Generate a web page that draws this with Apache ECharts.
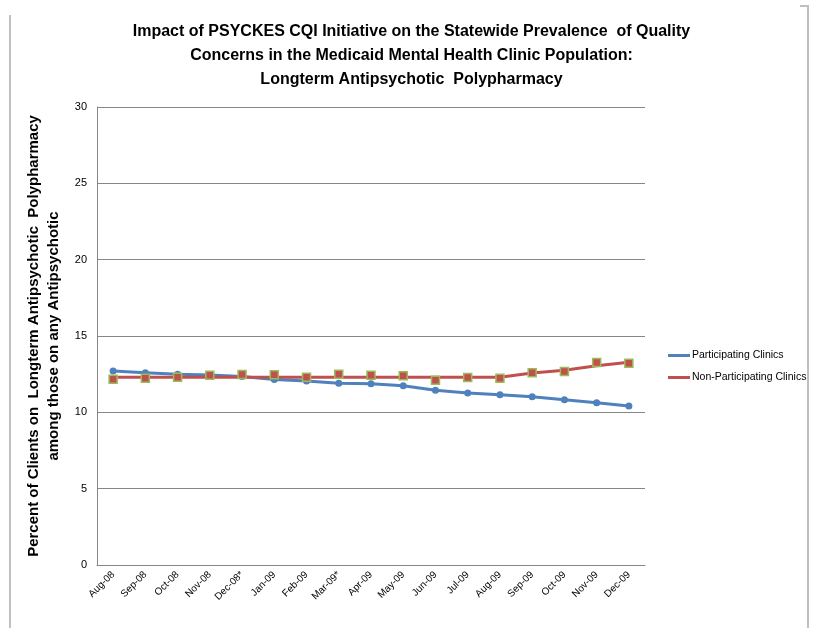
<!DOCTYPE html>
<html>
<head>
<meta charset="utf-8">
<script src="https://cdn.jsdelivr.net/npm/echarts@6/dist/echarts.min.js"></script>
<style>
  html, body { margin: 0; padding: 0; background: #fff; }
  #chart { width: 823px; height: 628px; }
</style>
</head>
<body>
<div id="chart"></div>
<script>
// 月份标签
const months = ['Aug-08', 'Sep-08', 'Oct-08', 'Nov-08', 'Dec-08*', 'Jan-09', 'Feb-09', 'Mar-09*',
    'Apr-09', 'May-09', 'Jun-09', 'Jul-09', 'Aug-09', 'Sep-09', 'Oct-09', 'Nov-09', 'Dec-09'];

// 参与诊所
const participating = [12.7, 12.6, 12.5, 12.45, 12.35, 12.15, 12.05, 11.9, 11.88, 11.74, 11.44,
    11.27, 11.15, 11.02, 10.83, 10.63, 10.42];

// 非参与诊所：线条（平滑后）与标记点
const nonPartLine = [12.3, 12.3, 12.3, 12.3, 12.3, 12.3, 12.3, 12.3, 12.3, 12.3, 12.3,
    12.3, 12.3, 12.57, 12.75, 13.05, 13.28];
const nonPartMarks = [12.17, 12.24, 12.3, 12.43, 12.48, 12.46, 12.3, 12.5, 12.43, 12.39, 12.1,
    12.28, 12.24, 12.59, 12.68, 13.26, 13.22];

const yTicks = [0, 5, 10, 15, 20, 25, 30];

const font = "'Liberation Sans', sans-serif";
const chart = echarts.init(document.getElementById('chart'));

chart.setOption({
    animation: false,
    backgroundColor: '#fff',
    title: {
        text: 'Impact of PSYCKES CQI Initiative on the Statewide Prevalence  of Quality\nConcerns in the Medicaid Mental Health Clinic Population:\nLongterm Antipsychotic  Polypharmacy',
        left: 'center',
        top: 15,
        textStyle: { fontFamily: font, fontSize: 16, fontWeight: 'bold', color: '#000', lineHeight: 24 }
    },
    legend: {
        orient: 'vertical',
        left: 663,
        top: 345,
        itemWidth: 22,
        itemHeight: 3,
        itemGap: 11,
        icon: 'rect',
        data: ['Participating Clinics', 'Non-Participating Clinics'],
        textStyle: { fontFamily: font, fontSize: 10.5, color: '#000', padding: [0, 0, 0, -3] }
    },
    grid: { left: 97, right: 178, top: 107, bottom: 63 },
    xAxis: {
        type: 'category',
        data: months,
        boundaryGap: true,
        axisLine: { lineStyle: { color: '#868686' } },
        axisTick: { show: false },
        axisLabel: { rotate: 45, interval: 0, fontFamily: font, fontSize: 10, color: '#000', margin: 8 }
    },
    yAxis: {
        type: 'value',
        min: yTicks[0],
        max: yTicks[yTicks.length - 1],
        interval: 5,
        name: 'Percent of Clients on  Longterm Antipsychotic  Polypharmacy\namong those on any Antipsychotic',
        nameLocation: 'middle',
        nameGap: 25,
        nameTextStyle: { fontFamily: font, fontSize: 15, fontWeight: 'bold', color: '#000', lineHeight: 20 },
        axisLine: { show: true, lineStyle: { color: '#868686' } },
        axisTick: { show: false },
        splitLine: { lineStyle: { color: '#868686' } },
        axisLabel: { fontFamily: font, fontSize: 11, color: '#000', margin: 10 }
    },
    series: [
        {
            name: 'Participating Clinics',
            type: 'line',
            data: participating,
            color: '#4f81bd',
            lineStyle: { width: 3, color: '#4f81bd' },
            symbol: 'circle',
            symbolSize: 7,
            itemStyle: { color: '#4f81bd' }
        },
        {
            name: 'Non-Participating Clinics',
            type: 'line',
            data: nonPartLine,
            color: '#c0504d',
            lineStyle: { width: 3, color: '#c0504d' },
            showSymbol: false,
            z: 3
        },
        {
            name: 'marks',
            type: 'line',
            data: nonPartMarks,
            lineStyle: { width: 0, opacity: 0 },
            symbol: 'rect',
            symbolSize: 8,
            itemStyle: { color: '#c0504d', borderColor: '#9bbb59', borderWidth: 1.5 },
            z: 4
        }
    ],
    graphic: [
        { type: 'line', shape: { x1: 10, y1: 15, x2: 10, y2: 628 }, style: { stroke: '#c0c0c0', lineWidth: 2 } },
        { type: 'polyline', shape: { points: [[800, 6], [808, 6], [808, 628]] }, style: { stroke: '#c0c0c0', lineWidth: 2, fill: null } }
    ]
});
</script>
</body>
</html>
